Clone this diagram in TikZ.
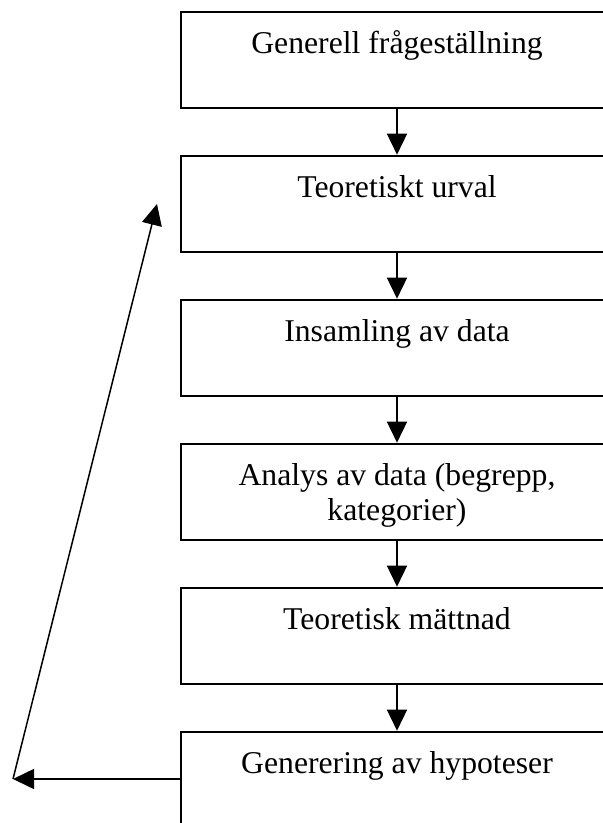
\documentclass[tikz,border=0pt]{standalone}
\usepackage{fontspec}
\setmainfont{Liberation Serif}
\usetikzlibrary{arrows.meta}
\begin{document}
\begin{tikzpicture}[x=1pt,y=-1pt,
  box/.style={draw,line width=1.8pt,minimum width=432pt,minimum height=96pt,inner sep=0pt,anchor=north,rectangle},
  txt/.style={anchor=base,align=center,inner sep=0pt,font=\fontsize{31.7}{35}\selectfont},
  arr/.style={line width=1.5pt,-{Triangle[length=21pt,width=20pt]}}]
\useasboundingbox (0,0) rectangle (603,823);
\clip (0,0) rectangle (603,823);
\node[box] (b1) at (397,10.7) {};
\node[box] (b2) at (397,154.7) {};
\node[box] (b3) at (397,298.7) {};
\node[box] (b4) at (397,442.7) {};
\node[box] (b5) at (397,586.7) {};
\node[box] (b6) at (397,730.7) {};
\node[txt] (t1) at (397,53) {Generell frågeställning};
\node[txt] (t2) at (397,197) {Teoretiskt urval};
\node[txt] (t3) at (397,341) {Insamling av data};
\node[txt] (t4) at (397,520) {Analys av data (begrepp,\\kategorier)};
\node[txt] (t5) at (397,629) {Teoretisk mättnad};
\node[txt] (t6) at (397,773) {Generering av hypoteser};
\draw[arr] (b1.south) -- (b2.north);
\draw[arr] (b2.south) -- (b3.north);
\draw[arr] (b3.south) -- (b4.north);
\draw[arr] (b4.south) -- (b5.north);
\draw[arr] (b5.south) -- (b6.north);
\coordinate (s) at (181,779);
\coordinate (c) at (13,779);
\coordinate (e) at (157,204);
\draw[arr] (s) -- (c);
\draw[arr] (c) -- (e);
\end{tikzpicture}
\end{document}
